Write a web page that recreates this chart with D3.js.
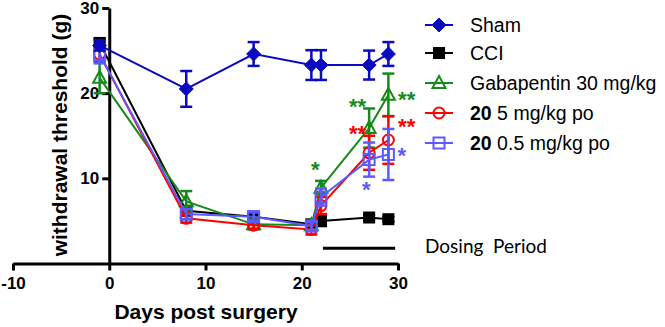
<!DOCTYPE html>
<html>
<head>
  <meta charset="utf-8">
  <style>
    body { margin: 0; padding: 0; background: white; }
    svg { display: block; font-family: "Liberation Sans", Arial, sans-serif; }
    .axis path, .axis line { stroke: black; stroke-width: 3; }
    .axis text { font-size: 17px; font-weight: bold; fill: black; }
  </style>
</head>
<body>
  <div id="chart"></div>
  <script src="https://d3js.org/d3.v7.min.js"></script>
  <script>

  // ####### DATA #######
  var days = [-1, 8, 15, 21, 22, 27, 29]

  var shamMean = [25.6, 20.5, 24.6, 23.3, 23.3, 23.3, 24.6]
  var shamErr  = [0.6, 2.1, 1.4, 1.75, 1.75, 1.7, 1.4]

  var cciMean = [25.9, 6.2, 5.5, 4.6, 5.0, 5.4, 5.2]
  var cciErr  = [0.5, 0.5, 0.4, 0.4, 0.6, 0.3, 0.3]

  var gabaMean = [21.8, 7.3, 4.6, 4.5, 8.9, 15.9, 19.8]
  var gabaErr  = [1.8, 1.2, 0.6, 0.5, 0.8, 2.3, 2.5]

  var c5Mean = [24.6, 5.3, 4.5, 4.0, 6.8, 13.0, 14.5]
  var c5Err  = [0.8, 0.5, 0.4, 0.6, 1.0, 2.0, 2.8]

  var c05Mean = [24.5, 5.8, 5.5, 4.4, 7.8, 12.2, 12.8]
  var c05Err  = [1.0, 0.6, 0.5, 0.5, 1.0, 2.0, 3.0]

  var xTicks = [-10, 0, 10, 20, 30]
  var yTicks = [10, 20, 30]

  // significance stars: [day, value, text, series]
  var stars = [
    [21.4, 11.6, "*", "gaba"],
    [25.8, 19.0, "**", "gaba"],
    [30.9, 19.8, "**", "gaba"],
    [25.8, 15.8, "**", "c5"],
    [30.9, 16.6, "**", "c5"],
    [26.7, 9.2, "*", "c05"],
    [30.4, 13.2, "*", "c05"]
  ]

  var dosingStart = 22.2, dosingEnd = 29.7, dosingLevel = 1.8

  var series = [
    { key: "cci",  bold: "", label: "CCI", mean: cciMean, err: cciErr, color: "#000000", shape: "square", fill: true },
    { key: "gaba", bold: "", label: "Gabapentin 30 mg/kg", mean: gabaMean, err: gabaErr, color: "#168a1a", shape: "triangle", fill: false },
    { key: "c5",   bold: "20", label: " 5 mg/kg po", mean: c5Mean, err: c5Err, color: "#ff0000", shape: "circle", fill: false },
    { key: "c05",  bold: "20", label: " 0.5 mg/kg po", mean: c05Mean, err: c05Err, color: "#5a5aff", shape: "square", fill: false },
    { key: "sham", bold: "", label: "Sham", mean: shamMean, err: shamErr, color: "#0a0ac0", shape: "diamond", fill: true }
  ]
  var legendOrder = ["sham", "cci", "gaba", "c5", "c05"]

  // ####### SVG #######
  var width = 665, height = 327
  var svg = d3.select("#chart").append("svg")
      .attr("width", width)
      .attr("height", height)

  var x = d3.scaleLinear().domain([-10, 30]).range([13, 398])
  var y = d3.scaleLinear().domain([0, 30]).range([263.5, 8])

  // ####### AXES #######
  svg.append("g")
      .attr("class", "axis")
      .attr("transform", "translate(0," + y(0) + ")")
      .call(d3.axisBottom(x).tickValues(xTicks).tickSize(7).tickSizeOuter(0).tickPadding(6)
        .tickFormat(function (d) { return String(d) }))

  svg.append("g")
      .attr("class", "axis")
      .attr("transform", "translate(" + x(0) + ",0)")
      .call(d3.axisLeft(y).tickValues(yTicks).tickSize(7).tickSizeOuter(0).tickPadding(3))

  svg.append("text")
      .attr("x", 206).attr("y", 319)
      .attr("text-anchor", "middle")
      .style("font-size", "21px").style("font-weight", "bold")
      .text("Days post surgery")

  svg.append("text")
      .attr("transform", "translate(67," + 135 + ") rotate(-90)")
      .attr("text-anchor", "middle")
      .style("font-size", "21px").style("font-weight", "bold")
      .text("withdrawal threshold (g)")

  // ####### MARKER DRAWING #######
  function drawMarker(g, s, cx, cy) {
    var fill = s.fill ? s.color : "white"
    if (s.shape === "square") {
      var h = s.fill ? 5 : 5.5
      g.append("rect").attr("x", cx - h).attr("y", cy - h)
        .attr("width", 2 * h).attr("height", 2 * h)
        .attr("fill", s.fill ? s.color : "none").attr("stroke", s.color).attr("stroke-width", 2)
    } else if (s.shape === "diamond") {
      g.append("path")
        .attr("d", "M" + cx + "," + (cy - 7) + "L" + (cx + 7) + "," + cy + "L" + cx + "," + (cy + 7) + "L" + (cx - 7) + "," + cy + "Z")
        .attr("fill", fill).attr("stroke", s.color).attr("stroke-width", 1)
    } else if (s.shape === "triangle") {
      g.append("path")
        .attr("d", "M" + cx + "," + (cy - 7) + "L" + (cx + 6.5) + "," + (cy + 5) + "L" + (cx - 6.5) + "," + (cy + 5) + "Z")
        .attr("fill", "none").attr("stroke", s.color).attr("stroke-width", 2)
    } else {
      g.append("circle").attr("cx", cx).attr("cy", cy).attr("r", 5.5)
        .attr("fill", "none").attr("stroke", s.color).attr("stroke-width", 2)
    }
  }

  var line = d3.line()
      .x(function (d) { return x(d[0]) })
      .y(function (d) { return y(d[1]) })

  // ####### SERIES #######
  series.forEach(function (s) {
    var g = svg.append("g")
    var pts = days.map(function (d, i) { return [d, s.mean[i], s.err[i]] })

    // error bars
    pts.forEach(function (p) {
      var cx = x(p[0])
      g.append("line").attr("x1", cx).attr("x2", cx)
        .attr("y1", y(p[1] - p[2])).attr("y2", y(p[1] + p[2]))
        .attr("stroke", s.color).attr("stroke-width", 2.5)
      ;[p[1] - p[2], p[1] + p[2]].forEach(function (v) {
        g.append("line").attr("x1", cx - 6).attr("x2", cx + 6)
          .attr("y1", y(v)).attr("y2", y(v))
          .attr("stroke", s.color).attr("stroke-width", 2.5)
      })
    })

    g.append("path").datum(pts)
      .attr("d", line)
      .attr("fill", "none")
      .attr("stroke", s.color)
      .attr("stroke-width", 2)

    pts.forEach(function (p) { drawMarker(g, s, x(p[0]), y(p[1])) })
  })

  // ####### STARS #######
  var colorByKey = {}
  series.forEach(function (s) { colorByKey[s.key] = s.color })

  svg.append("g").selectAll("text")
    .data(stars).enter().append("text")
      .attr("x", function (d) { return x(d[0]) })
      .attr("y", function (d) { return y(d[1]) + 12 })
      .attr("text-anchor", "middle")
      .style("font-size", "22px")
      .style("font-weight", "bold")
      .attr("fill", function (d) { return colorByKey[d[3]] })
      .text(function (d) { return d[2] })

  // ####### DOSING PERIOD #######
  svg.append("line")
      .attr("x1", x(dosingStart)).attr("x2", x(dosingEnd))
      .attr("y1", y(dosingLevel)).attr("y2", y(dosingLevel))
      .attr("stroke", "black").attr("stroke-width", 3)

  svg.append("text")
      .attr("x", 425).attr("y", 253)
      .style("font-family", "Lato, sans-serif")
      .style("font-size", "19px")
      .attr("xml:space", "preserve")
      .text("Dosing  Period")

  // ####### LEGEND #######
  var legendY = [25, 53, 83, 113, 143]
  legendOrder.forEach(function (k, i) {
    var s = series.filter(function (d) { return d.key === k })[0]
    var g = svg.append("g")
    var ly = legendY[i]
    g.append("line").attr("x1", 425).attr("x2", 453).attr("y1", ly).attr("y2", ly)
      .attr("stroke", s.color).attr("stroke-width", 2)
    drawMarker(g, s, 439, ly)
    var t = g.append("text").attr("x", 470).attr("y", ly + 7)
      .style("font-size", "19.5px")
    if (s.bold) t.append("tspan").style("font-weight", "bold").text(s.bold)
    t.append("tspan").text(s.label)
  })

  </script>
</body>
</html>
